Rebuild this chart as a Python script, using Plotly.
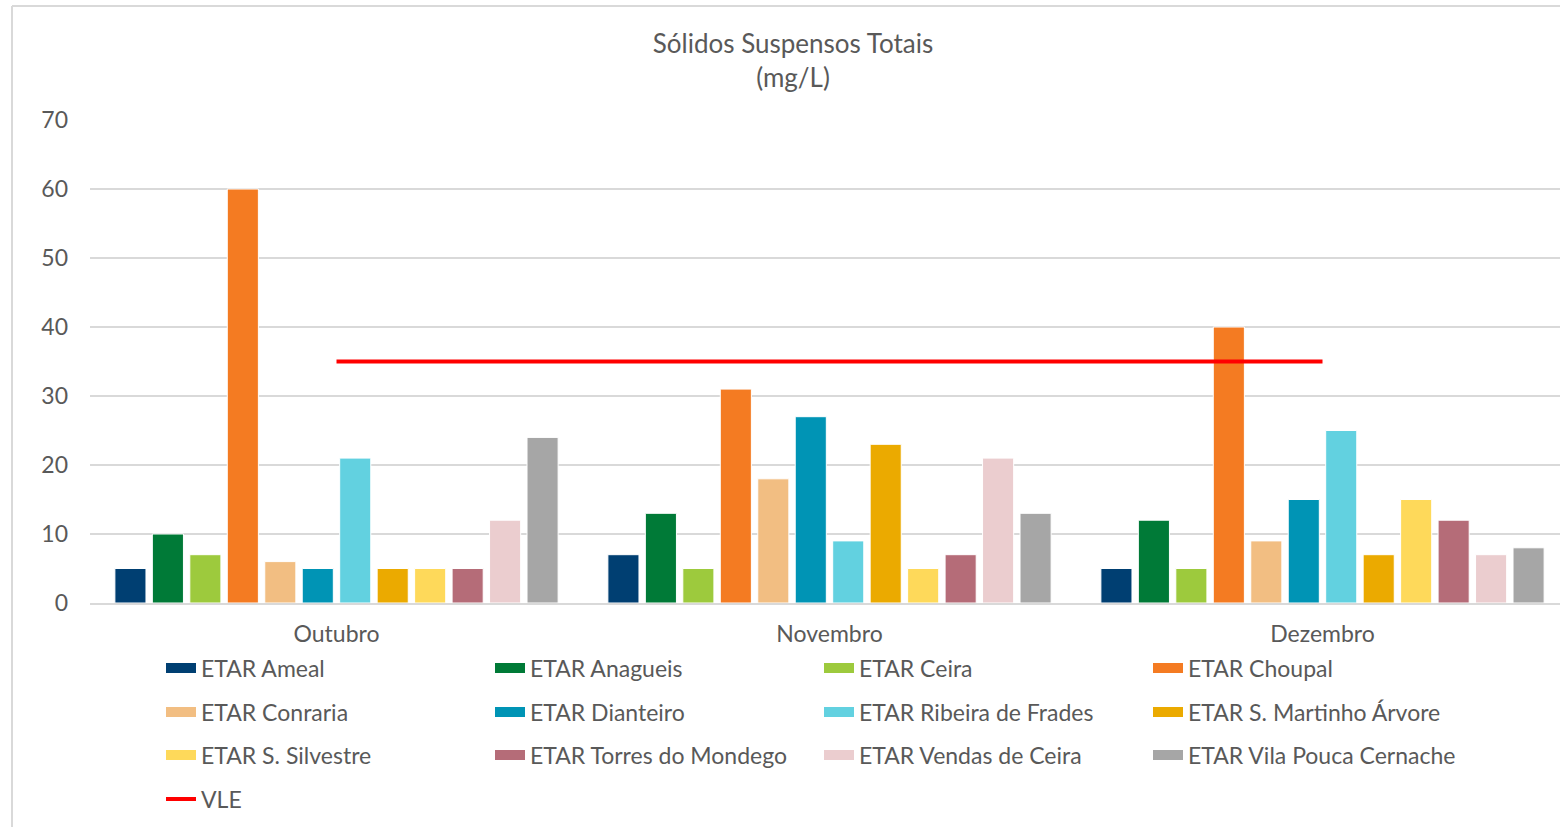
import plotly.graph_objects as go

months = ["Outubro", "Novembro", "Dezembro"]
series_names = [
    "ETAR Ameal", "ETAR Anagueis", "ETAR Ceira", "ETAR Choupal",
    "ETAR Conraria", "ETAR Dianteiro", "ETAR Ribeira de Frades", "ETAR S. Martinho Árvore",
    "ETAR S. Silvestre", "ETAR Torres do Mondego", "ETAR Vendas de Ceira", "ETAR Vila Pouca Cernache",
]
ameal = [5, 7, 5]
anagueis = [10, 13, 12]
ceira = [7, 5, 5]
choupal = [60, 31, 40]
conraria = [6, 18, 9]
dianteiro = [5, 27, 15]
ribeira = [21, 9, 25]
smartinho = [5, 23, 7]
ssilvestre = [5, 5, 15]
torres = [5, 7, 12]
vendas = [12, 21, 7]
vilapouca = [24, 13, 8]
vle = [35, 35, 35]

series_values = [ameal, anagueis, ceira, choupal, conraria, dianteiro, ribeira,
                 smartinho, ssilvestre, torres, vendas, vilapouca]
colors = ["#003F72", "#007A37", "#9DCA3D", "#F47B22", "#F2BE82", "#0094B5",
          "#62D1E0", "#EBAA00", "#FED95A", "#B56C78", "#EBCDCF", "#A6A6A6"]

FONT = "Lato"
GRAY = "#595959"

W, H = 1560, 827
ML, MR, MT, MB = 90, 0, 120, 224
PW = W - ML - MR
PH = H - MT - MB


def px_x(p):
    return (p - ML) / PW


def px_y(p):
    return (H - MB - p) / PH


row_legends = ["legend", "legend2", "legend3"]

fig = go.Figure()
for i, (name, vals, col) in enumerate(zip(series_names, series_values, colors)):
    fig.add_trace(go.Bar(
        x=months, y=vals, name=name,
        marker=dict(color=col, line=dict(color="white", width=1)),
        showlegend=False, legendgroup=name,
    ))
    # legend key drawn as a wide swatch (line-style key), no data points
    fig.add_trace(go.Scatter(
        x=[None], y=[None], name=name, mode="lines",
        line=dict(color=col, width=13),
        legend=row_legends[i // 4], legendgroup=name,
    ))

fig.add_trace(go.Scatter(
    x=months, y=vle, name="VLE", mode="lines",
    line=dict(color="#FF0000", width=4),
    legend="legend4",
))

row_px = {"legend": 668, "legend2": 712, "legend3": 755, "legend4": 799}
layout_legends = {}
for lid, cy in row_px.items():
    layout_legends[lid] = dict(
        orientation="h", x=px_x(161), xanchor="left",
        y=px_y(cy), yanchor="middle",
        entrywidth=284, entrywidthmode="pixels",
        font=dict(family=FONT, size=23, color=GRAY),
        bgcolor="rgba(0,0,0,0)",
    )

fig.update_layout(
    width=W, height=H,
    margin=dict(l=ML, r=MR, t=MT, b=MB),
    paper_bgcolor="white", plot_bgcolor="white",
    barmode="group", bargap=0.088, bargroupgap=0.17,
    title=dict(
        text="Sólidos Suspensos Totais<br>(mg/L)",
        x=793 / W, xanchor="center",
        y=1 - 53 / H, yanchor="middle",
        font=dict(family=FONT, size=26, color=GRAY),
    ),
    font=dict(family=FONT, color=GRAY),
    xaxis=dict(
        range=[-0.5, -0.5 + PW / 493], showgrid=False,
        showline=True, linecolor="#D9D9D9", linewidth=1.5,
        tickfont=dict(family=FONT, size=23, color=GRAY),
        ticks="", ticklabelstandoff=10,
    ),
    yaxis=dict(
        range=[0, 70], dtick=10, showgrid=True, gridcolor="#D9D9D9", gridwidth=1.5,
        zeroline=False, showline=False,
        tickfont=dict(family=FONT, size=23, color=GRAY),
        ticklabelstandoff=21,
    ),
    shapes=[
        dict(type="line", xref="paper", yref="paper",
             x0=px_x(12), x1=px_x(12), y0=px_y(6), y1=px_y(840),
             line=dict(color="#D9D9D9", width=2)),
        dict(type="line", xref="paper", yref="paper",
             x0=px_x(12), x1=px_x(1580), y0=px_y(6), y1=px_y(6),
             line=dict(color="#D9D9D9", width=2)),
    ],
    **layout_legends,
)

fig.write_html(
    "out.html",
    config={"displayModeBar": False},
    post_script="document.body.style.margin='0';document.body.style.overflow='hidden';",
)
